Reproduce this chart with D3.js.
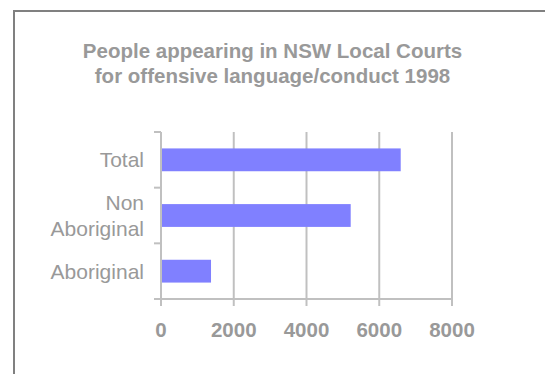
<!DOCTYPE html>
<html><head><meta charset="utf-8">
<script src="https://cdn.jsdelivr.net/npm/d3@7"></script>
<style>body{margin:0;background:#fff;}svg{display:block;font-family:"Liberation Sans",Arial,sans-serif;}</style>
</head><body>
<svg id="c" width="545" height="374"></svg>
<script>
const titleLines = ["People appearing in NSW Local Courts", "for offensive language/conduct 1998"];
const categories = ["Total", "Non Aboriginal", "Aboriginal"];
const values = [6590, 5215, 1375];
const xTicks = [0, 2000, 4000, 6000, 8000];

const svg = d3.select("#c");
const textColor = "#999999";
const gridColor = "#c0c0c0";

// frame
svg.append("path").attr("d", "M14,380 L14,11 L560,11")
  .attr("fill", "none").attr("stroke", "#808080").attr("stroke-width", 2);

// title
svg.append("text").attr("x", 272.5).attr("y", 58).attr("text-anchor", "middle")
  .attr("font-weight", "bold").attr("font-size", 20.5).attr("fill", textColor)
  .selectAll("tspan").data(titleLines).join("tspan")
  .attr("x", 272.5).attr("dy", (d, i) => i ? 25 : 0).text(d => d);

const x = d3.scaleLinear().domain([0, 8000]).range([161, 452]);
const y = d3.scaleBand().domain(categories).range([132, 299]).paddingInner(0.59).paddingOuter(0.295);
const yb = d3.scaleBand().domain(categories).range([132, 299]);

// grid
svg.append("g").selectAll("line").data(xTicks.slice(1)).join("line")
  .attr("x1", d => x(d)).attr("x2", d => x(d)).attr("y1", 132).attr("y2", 299)
  .attr("stroke", gridColor).attr("stroke-width", 2);

// bars
svg.append("g").selectAll("rect").data(values).join("rect")
  .attr("x", x(0)).attr("y", (d, i) => y(categories[i]))
  .attr("width", d => x(d) - x(0)).attr("height", y.bandwidth())
  .attr("fill", "#8080ff");

// y axis
const gy = svg.append("g");
gy.append("line").attr("x1", x(0)).attr("x2", x(0)).attr("y1", 132).attr("y2", 299)
  .attr("stroke", gridColor).attr("stroke-width", 2);
const yTickPos = categories.map(c => yb(c)).concat([299]);
gy.selectAll("line.t").data(yTickPos).join("line").attr("class", "t")
  .attr("x1", x(0) - 7).attr("x2", x(0)).attr("y1", d => d).attr("y2", d => d)
  .attr("stroke", gridColor).attr("stroke-width", 2);

// x axis
const gx = svg.append("g");
gx.append("line").attr("x1", x(0) - 7).attr("x2", x(8000) + 1).attr("y1", 299).attr("y2", 299)
  .attr("stroke", gridColor).attr("stroke-width", 2);
gx.selectAll("line.t").data(xTicks).join("line").attr("class", "t")
  .attr("x1", d => x(d)).attr("x2", d => x(d)).attr("y1", 299).attr("y2", 306)
  .attr("stroke", gridColor).attr("stroke-width", 2);
gx.selectAll("text").data(xTicks).join("text")
  .attr("x", d => x(d)).attr("y", 337).attr("text-anchor", "middle")
  .attr("font-weight", "bold").attr("font-size", 20.5).attr("fill", textColor)
  .text(d => d);

// y labels
const lab = svg.append("g").selectAll("text").data(categories).join("text")
  .attr("text-anchor", "end").attr("font-size", 21).attr("fill", textColor)
  .attr("y", d => yb(d) + yb.bandwidth() / 2);
lab.each(function(d) {
  const words = d.split(" ");
  const t = d3.select(this);
  const n = words.length;
  words.forEach((w, i) => {
    t.append("tspan").attr("x", 144)
      .attr("dy", i === 0 ? (0.35 - (n - 1) * 0.62) + "em" : "1.24em").text(w);
  });
});
</script>
</body></html>
